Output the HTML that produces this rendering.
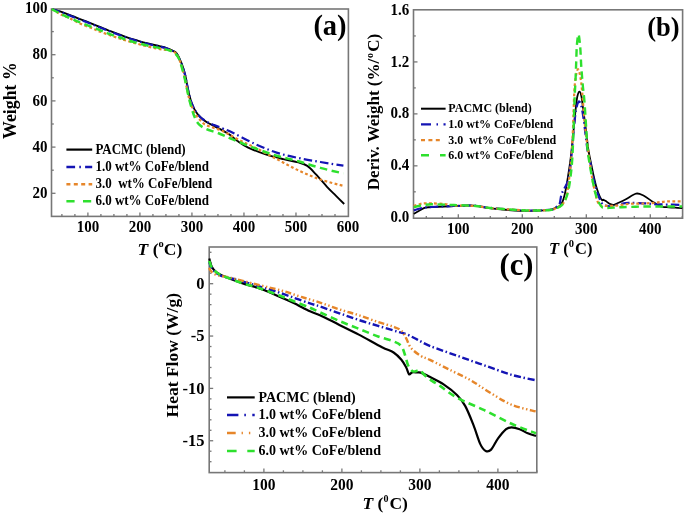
<!DOCTYPE html>
<html><head><meta charset="utf-8"><title>TGA/DTG/DSC</title>
<style>html,body{margin:0;padding:0;background:#fff;}body{width:685px;height:516px;overflow:hidden;}svg{display:block;filter:blur(0.35px);}</style>
</head><body>
<svg width="685" height="516" viewBox="0 0 685 516" font-family='"Liberation Serif", serif' font-weight="bold">
<rect width="685" height="516" fill="#fff"/>
<rect x="51.5" y="9" width="296.9" height="207.4" fill="none" stroke="#777" stroke-width="1.6"/>
<line x1="61.89" y1="216.4" x2="61.89" y2="214.1" stroke="#777" stroke-width="1.3"/>
<line x1="74.9" y1="216.4" x2="74.9" y2="214.1" stroke="#777" stroke-width="1.3"/>
<line x1="87.9" y1="216.4" x2="87.9" y2="212.4" stroke="#777" stroke-width="1.3"/>
<line x1="100.91" y1="216.4" x2="100.91" y2="214.1" stroke="#777" stroke-width="1.3"/>
<line x1="113.91" y1="216.4" x2="113.91" y2="214.1" stroke="#777" stroke-width="1.3"/>
<line x1="126.92" y1="216.4" x2="126.92" y2="214.1" stroke="#777" stroke-width="1.3"/>
<line x1="139.92" y1="216.4" x2="139.92" y2="212.4" stroke="#777" stroke-width="1.3"/>
<line x1="152.93" y1="216.4" x2="152.93" y2="214.1" stroke="#777" stroke-width="1.3"/>
<line x1="165.93" y1="216.4" x2="165.93" y2="214.1" stroke="#777" stroke-width="1.3"/>
<line x1="178.94" y1="216.4" x2="178.94" y2="214.1" stroke="#777" stroke-width="1.3"/>
<line x1="191.94" y1="216.4" x2="191.94" y2="212.4" stroke="#777" stroke-width="1.3"/>
<line x1="204.94" y1="216.4" x2="204.94" y2="214.1" stroke="#777" stroke-width="1.3"/>
<line x1="217.95" y1="216.4" x2="217.95" y2="214.1" stroke="#777" stroke-width="1.3"/>
<line x1="230.96" y1="216.4" x2="230.96" y2="214.1" stroke="#777" stroke-width="1.3"/>
<line x1="243.96" y1="216.4" x2="243.96" y2="212.4" stroke="#777" stroke-width="1.3"/>
<line x1="256.97" y1="216.4" x2="256.97" y2="214.1" stroke="#777" stroke-width="1.3"/>
<line x1="269.97" y1="216.4" x2="269.97" y2="214.1" stroke="#777" stroke-width="1.3"/>
<line x1="282.98" y1="216.4" x2="282.98" y2="214.1" stroke="#777" stroke-width="1.3"/>
<line x1="295.98" y1="216.4" x2="295.98" y2="212.4" stroke="#777" stroke-width="1.3"/>
<line x1="308.99" y1="216.4" x2="308.99" y2="214.1" stroke="#777" stroke-width="1.3"/>
<line x1="321.99" y1="216.4" x2="321.99" y2="214.1" stroke="#777" stroke-width="1.3"/>
<line x1="335" y1="216.4" x2="335" y2="214.1" stroke="#777" stroke-width="1.3"/>
<line x1="51.5" y1="193.3" x2="55.5" y2="193.3" stroke="#777" stroke-width="1.3"/>
<line x1="51.5" y1="170.2" x2="53.8" y2="170.2" stroke="#777" stroke-width="1.3"/>
<line x1="51.5" y1="147.1" x2="55.5" y2="147.1" stroke="#777" stroke-width="1.3"/>
<line x1="51.5" y1="124" x2="53.8" y2="124" stroke="#777" stroke-width="1.3"/>
<line x1="51.5" y1="100.9" x2="55.5" y2="100.9" stroke="#777" stroke-width="1.3"/>
<line x1="51.5" y1="77.8" x2="53.8" y2="77.8" stroke="#777" stroke-width="1.3"/>
<line x1="51.5" y1="54.7" x2="55.5" y2="54.7" stroke="#777" stroke-width="1.3"/>
<line x1="51.5" y1="31.6" x2="53.8" y2="31.6" stroke="#777" stroke-width="1.3"/>
<rect x="413.5" y="9.8" width="269.1" height="208.4" fill="none" stroke="#777" stroke-width="1.6"/>
<line x1="426.3" y1="218.2" x2="426.3" y2="215.9" stroke="#777" stroke-width="1.3"/>
<line x1="442.3" y1="218.2" x2="442.3" y2="215.9" stroke="#777" stroke-width="1.3"/>
<line x1="458.3" y1="218.2" x2="458.3" y2="214.2" stroke="#777" stroke-width="1.3"/>
<line x1="474.3" y1="218.2" x2="474.3" y2="215.9" stroke="#777" stroke-width="1.3"/>
<line x1="490.3" y1="218.2" x2="490.3" y2="215.9" stroke="#777" stroke-width="1.3"/>
<line x1="506.3" y1="218.2" x2="506.3" y2="215.9" stroke="#777" stroke-width="1.3"/>
<line x1="522.3" y1="218.2" x2="522.3" y2="214.2" stroke="#777" stroke-width="1.3"/>
<line x1="538.3" y1="218.2" x2="538.3" y2="215.9" stroke="#777" stroke-width="1.3"/>
<line x1="554.3" y1="218.2" x2="554.3" y2="215.9" stroke="#777" stroke-width="1.3"/>
<line x1="570.3" y1="218.2" x2="570.3" y2="215.9" stroke="#777" stroke-width="1.3"/>
<line x1="586.3" y1="218.2" x2="586.3" y2="214.2" stroke="#777" stroke-width="1.3"/>
<line x1="602.3" y1="218.2" x2="602.3" y2="215.9" stroke="#777" stroke-width="1.3"/>
<line x1="618.3" y1="218.2" x2="618.3" y2="215.9" stroke="#777" stroke-width="1.3"/>
<line x1="634.3" y1="218.2" x2="634.3" y2="215.9" stroke="#777" stroke-width="1.3"/>
<line x1="650.3" y1="218.2" x2="650.3" y2="214.2" stroke="#777" stroke-width="1.3"/>
<line x1="666.3" y1="218.2" x2="666.3" y2="215.9" stroke="#777" stroke-width="1.3"/>
<line x1="682.3" y1="218.2" x2="682.3" y2="215.9" stroke="#777" stroke-width="1.3"/>
<line x1="413.5" y1="191.82" x2="415.8" y2="191.82" stroke="#777" stroke-width="1.3"/>
<line x1="413.5" y1="165.84" x2="417.5" y2="165.84" stroke="#777" stroke-width="1.3"/>
<line x1="413.5" y1="139.86" x2="415.8" y2="139.86" stroke="#777" stroke-width="1.3"/>
<line x1="413.5" y1="113.88" x2="417.5" y2="113.88" stroke="#777" stroke-width="1.3"/>
<line x1="413.5" y1="87.9" x2="415.8" y2="87.9" stroke="#777" stroke-width="1.3"/>
<line x1="413.5" y1="61.92" x2="417.5" y2="61.92" stroke="#777" stroke-width="1.3"/>
<line x1="413.5" y1="35.94" x2="415.8" y2="35.94" stroke="#777" stroke-width="1.3"/>
<rect x="209.2" y="247" width="327.6" height="225.6" fill="none" stroke="#777" stroke-width="1.6"/>
<line x1="224.9" y1="472.6" x2="224.9" y2="470.3" stroke="#777" stroke-width="1.3"/>
<line x1="244.4" y1="472.6" x2="244.4" y2="470.3" stroke="#777" stroke-width="1.3"/>
<line x1="263.9" y1="472.6" x2="263.9" y2="468.6" stroke="#777" stroke-width="1.3"/>
<line x1="283.4" y1="472.6" x2="283.4" y2="470.3" stroke="#777" stroke-width="1.3"/>
<line x1="302.9" y1="472.6" x2="302.9" y2="470.3" stroke="#777" stroke-width="1.3"/>
<line x1="322.4" y1="472.6" x2="322.4" y2="470.3" stroke="#777" stroke-width="1.3"/>
<line x1="341.9" y1="472.6" x2="341.9" y2="468.6" stroke="#777" stroke-width="1.3"/>
<line x1="361.4" y1="472.6" x2="361.4" y2="470.3" stroke="#777" stroke-width="1.3"/>
<line x1="380.9" y1="472.6" x2="380.9" y2="470.3" stroke="#777" stroke-width="1.3"/>
<line x1="400.4" y1="472.6" x2="400.4" y2="470.3" stroke="#777" stroke-width="1.3"/>
<line x1="419.9" y1="472.6" x2="419.9" y2="468.6" stroke="#777" stroke-width="1.3"/>
<line x1="439.4" y1="472.6" x2="439.4" y2="470.3" stroke="#777" stroke-width="1.3"/>
<line x1="458.9" y1="472.6" x2="458.9" y2="470.3" stroke="#777" stroke-width="1.3"/>
<line x1="478.4" y1="472.6" x2="478.4" y2="470.3" stroke="#777" stroke-width="1.3"/>
<line x1="497.9" y1="472.6" x2="497.9" y2="468.6" stroke="#777" stroke-width="1.3"/>
<line x1="517.4" y1="472.6" x2="517.4" y2="470.3" stroke="#777" stroke-width="1.3"/>
<line x1="536.9" y1="472.6" x2="536.9" y2="470.3" stroke="#777" stroke-width="1.3"/>
<line x1="209.2" y1="461.69" x2="211.5" y2="461.69" stroke="#777" stroke-width="1.3"/>
<line x1="209.2" y1="451.22" x2="211.5" y2="451.22" stroke="#777" stroke-width="1.3"/>
<line x1="209.2" y1="440.75" x2="213.2" y2="440.75" stroke="#777" stroke-width="1.3"/>
<line x1="209.2" y1="430.28" x2="211.5" y2="430.28" stroke="#777" stroke-width="1.3"/>
<line x1="209.2" y1="419.81" x2="211.5" y2="419.81" stroke="#777" stroke-width="1.3"/>
<line x1="209.2" y1="409.34" x2="211.5" y2="409.34" stroke="#777" stroke-width="1.3"/>
<line x1="209.2" y1="398.87" x2="211.5" y2="398.87" stroke="#777" stroke-width="1.3"/>
<line x1="209.2" y1="388.4" x2="213.2" y2="388.4" stroke="#777" stroke-width="1.3"/>
<line x1="209.2" y1="377.93" x2="211.5" y2="377.93" stroke="#777" stroke-width="1.3"/>
<line x1="209.2" y1="367.46" x2="211.5" y2="367.46" stroke="#777" stroke-width="1.3"/>
<line x1="209.2" y1="356.99" x2="211.5" y2="356.99" stroke="#777" stroke-width="1.3"/>
<line x1="209.2" y1="346.52" x2="211.5" y2="346.52" stroke="#777" stroke-width="1.3"/>
<line x1="209.2" y1="336.05" x2="213.2" y2="336.05" stroke="#777" stroke-width="1.3"/>
<line x1="209.2" y1="325.58" x2="211.5" y2="325.58" stroke="#777" stroke-width="1.3"/>
<line x1="209.2" y1="315.11" x2="211.5" y2="315.11" stroke="#777" stroke-width="1.3"/>
<line x1="209.2" y1="304.64" x2="211.5" y2="304.64" stroke="#777" stroke-width="1.3"/>
<line x1="209.2" y1="294.17" x2="211.5" y2="294.17" stroke="#777" stroke-width="1.3"/>
<line x1="209.2" y1="283.7" x2="213.2" y2="283.7" stroke="#777" stroke-width="1.3"/>
<line x1="209.2" y1="273.23" x2="211.5" y2="273.23" stroke="#777" stroke-width="1.3"/>
<line x1="209.2" y1="262.76" x2="211.5" y2="262.76" stroke="#777" stroke-width="1.3"/>
<line x1="209.2" y1="252.29" x2="211.5" y2="252.29" stroke="#777" stroke-width="1.3"/>
<text transform="translate(47.4,13.1) scale(1,1.06)" font-size="15" text-anchor="end">100</text>
<text transform="translate(47.4,59.3) scale(1,1.06)" font-size="15" text-anchor="end">80</text>
<text transform="translate(47.4,105.5) scale(1,1.06)" font-size="15" text-anchor="end">60</text>
<text transform="translate(47.4,151.7) scale(1,1.06)" font-size="15" text-anchor="end">40</text>
<text transform="translate(47.4,197.9) scale(1,1.06)" font-size="15" text-anchor="end">20</text>
<text transform="translate(87.9,231.9) scale(1,1.06)" font-size="15" text-anchor="middle">100</text>
<text transform="translate(139.92,231.9) scale(1,1.06)" font-size="15" text-anchor="middle">200</text>
<text transform="translate(191.94,231.9) scale(1,1.06)" font-size="15" text-anchor="middle">300</text>
<text transform="translate(243.96,231.9) scale(1,1.06)" font-size="15" text-anchor="middle">400</text>
<text transform="translate(295.98,231.9) scale(1,1.06)" font-size="15" text-anchor="middle">500</text>
<text transform="translate(348,231.9) scale(1,1.06)" font-size="15" text-anchor="middle">600</text>
<text transform="translate(409.2,14.56) scale(1,1.06)" font-size="15" text-anchor="end">1.6</text>
<text transform="translate(409.2,66.52) scale(1,1.06)" font-size="15" text-anchor="end">1.2</text>
<text transform="translate(409.2,118.48) scale(1,1.06)" font-size="15" text-anchor="end">0.8</text>
<text transform="translate(409.2,170.44) scale(1,1.06)" font-size="15" text-anchor="end">0.4</text>
<text transform="translate(409.2,222.4) scale(1,1.06)" font-size="15" text-anchor="end">0.0</text>
<text transform="translate(458.3,233.8) scale(1,1.06)" font-size="15" text-anchor="middle">100</text>
<text transform="translate(522.3,233.8) scale(1,1.06)" font-size="15" text-anchor="middle">200</text>
<text transform="translate(586.3,233.8) scale(1,1.06)" font-size="15" text-anchor="middle">300</text>
<text transform="translate(650.3,233.8) scale(1,1.06)" font-size="15" text-anchor="middle">400</text>
<text transform="translate(204.4,288.8) scale(1,1.03)" font-size="16.5" text-anchor="end">0</text>
<text transform="translate(204.4,341.15) scale(1,1.03)" font-size="16.5" text-anchor="end">-5</text>
<text transform="translate(204.4,393.5) scale(1,1.03)" font-size="16.5" text-anchor="end">-10</text>
<text transform="translate(204.4,445.85) scale(1,1.03)" font-size="16.5" text-anchor="end">-15</text>
<text transform="translate(263.9,489.5) scale(1,1.08)" font-size="15.5" text-anchor="middle">100</text>
<text transform="translate(341.9,489.5) scale(1,1.08)" font-size="15.5" text-anchor="middle">200</text>
<text transform="translate(419.9,489.5) scale(1,1.08)" font-size="15.5" text-anchor="middle">300</text>
<text transform="translate(497.9,489.5) scale(1,1.08)" font-size="15.5" text-anchor="middle">400</text>
<text x="137.6" y="255.2" font-size="17.5"><tspan font-style="italic">T</tspan> (<tspan font-size="10.5" dy="-7.9">o</tspan><tspan dx="0" dy="7.9">C)</tspan></text>
<text x="549" y="253.8" font-size="16.5"><tspan font-style="italic">T</tspan> (<tspan font-size="10.5" dy="-6.6">0</tspan><tspan dx="1" dy="6.6">C)</tspan></text>
<text x="362.5" y="508.8" font-size="17.5"><tspan font-style="italic">T</tspan> (<tspan font-size="10" dy="-6.6">0</tspan><tspan dx="1" dy="6.6">C)</tspan></text>
<text x="0" y="0" font-size="17.8" text-anchor="middle" transform="translate(16.4,100.6) rotate(-90)">Weight %</text>
<text x="0" y="0" font-size="17" text-anchor="middle" transform="translate(379,112) rotate(-90)">Deriv. Weight (%/<tspan font-size="10" dx="0.8" dy="-6.5">o</tspan><tspan dx="1.2" dy="6.5">C)</tspan></text>
<text x="0" y="0" font-size="17.5" text-anchor="middle" transform="translate(178.3,355.2) rotate(-90)">Heat Flow (W/g)</text>
<text x="330" y="35" font-size="28.5" text-anchor="middle">(a)</text>
<text x="663.5" y="35.9" font-size="26.5" text-anchor="middle">(b)</text>
<text x="516.4" y="275.3" font-size="30.5" text-anchor="middle">(c)</text>
<path d="M51.8,9.2 C53.17,9.57 56.63,10.27 60,11.4 C63.37,12.53 67.62,14.33 72,16 C76.38,17.67 81.63,19.57 86.3,21.4 C90.97,23.23 95.55,25.2 100,27 C104.45,28.8 108.62,30.52 113,32.2 C117.38,33.88 122.2,35.7 126.3,37.1 C130.4,38.5 133.98,39.53 137.6,40.6 C141.22,41.67 144.35,42.57 148,43.5 C151.65,44.43 156.5,45.48 159.5,46.2 C162.5,46.92 164.25,47.28 166,47.8 C167.75,48.32 168.67,48.72 170,49.3 C171.33,49.88 172.83,50.55 174,51.3 C175.17,52.05 176.1,52.62 177,53.8 C177.9,54.98 178.52,56.5 179.4,58.4 C180.28,60.3 181.33,62.45 182.3,65.2 C183.27,67.95 184.4,71.67 185.2,74.9 C186,78.13 186.45,81.37 187.1,84.6 C187.75,87.83 188.28,91.07 189.1,94.3 C189.92,97.53 190.87,101.1 192,104 C193.13,106.9 194.45,109.45 195.9,111.7 C197.35,113.95 198.93,115.78 200.7,117.5 C202.47,119.22 204.23,120.55 206.5,122 C208.77,123.45 211.72,124.83 214.3,126.2 C216.88,127.57 219.42,128.77 222,130.2 C224.58,131.63 227.27,133.03 229.8,134.8 C232.33,136.57 234.13,138.67 237.2,140.8 C240.27,142.93 243.45,145.33 248.2,147.6 C252.95,149.87 259.87,152.48 265.7,154.4 C271.53,156.32 277.73,157.77 283.2,159.1 C288.67,160.43 294.48,161.27 298.5,162.4 C302.52,163.53 304.38,163.9 307.3,165.9 C310.22,167.9 312.72,170.92 316,174.4 C319.28,177.88 323.7,183.27 327,186.8 C330.3,190.33 332.93,192.73 335.8,195.6 C338.67,198.47 342.8,202.6 344.2,204" fill="none" stroke="#000" stroke-width="1.9" stroke-linejoin="round"/>
<path d="M51.8,9.2 C53.17,9.63 56.63,10.58 60,11.8 C63.37,13.02 67.62,14.8 72,16.5 C76.38,18.2 81.63,20.17 86.3,22 C90.97,23.83 95.55,25.73 100,27.5 C104.45,29.27 108.62,30.93 113,32.6 C117.38,34.27 122.2,36.1 126.3,37.5 C130.4,38.9 133.98,39.92 137.6,41 C141.22,42.08 144.35,43.07 148,44 C151.65,44.93 155.83,45.67 159.5,46.6 C163.17,47.53 167.42,48.62 170,49.6 C172.58,50.58 173.67,51.35 175,52.5 C176.33,53.65 177.08,55 178,56.5 C178.92,58 179.78,59.92 180.5,61.5 C181.22,63.08 181.52,63.67 182.3,66 C183.08,68.33 184.4,72.33 185.2,75.5 C186,78.67 186.45,81.83 187.1,85 C187.75,88.17 188.28,91.33 189.1,94.5 C189.92,97.67 190.87,101.13 192,104 C193.13,106.87 194.45,109.45 195.9,111.7 C197.35,113.95 198.93,115.88 200.7,117.5 C202.47,119.12 204.62,120.27 206.5,121.4 C208.38,122.53 210.08,123.45 212,124.3 C213.92,125.15 214.53,125.08 218,126.5 C221.47,127.92 226.68,129.92 232.8,132.8 C238.92,135.68 247.4,140.5 254.7,143.8 C262,147.1 269.3,150.23 276.6,152.6 C283.9,154.97 291.2,156.43 298.5,158 C305.8,159.57 312.92,160.72 320.4,162 C327.88,163.28 339.57,165.08 343.4,165.7" fill="none" stroke="#1414b4" stroke-width="2.2" stroke-linejoin="round" stroke-dasharray="8.5 3.2 1.6 3.2"/>
<path d="M51.8,9.2 C53.17,10 57.17,12.55 60,14 C62.83,15.45 65.47,16.32 68.8,17.9 C72.13,19.48 75.92,21.68 80,23.5 C84.08,25.32 89.97,27.45 93.3,28.8 C96.63,30.15 96.07,30.13 100,31.6 C103.93,33.07 112.52,36.1 116.9,37.6 C121.28,39.1 122.45,39.45 126.3,40.6 C130.15,41.75 134.9,43.17 140,44.5 C145.1,45.83 151.9,47.6 156.9,48.6 C161.9,49.6 166.82,49.68 170,50.5 C173.18,51.32 174.5,52.08 176,53.5 C177.5,54.92 178,56.75 179,59 C180,61.25 181.08,64 182,67 C182.92,70 183.7,73.5 184.5,77 C185.3,80.5 186.05,84.5 186.8,88 C187.55,91.5 188.13,94.83 189,98 C189.87,101.17 190.83,104.17 192,107 C193.17,109.83 194.5,112.67 196,115 C197.5,117.33 199.25,119.28 201,121 C202.75,122.72 203.02,123.68 206.5,125.3 C209.98,126.92 216.78,128.42 221.9,130.7 C227.02,132.98 231.73,136.2 237.2,139 C242.67,141.8 248.13,144.17 254.7,147.5 C261.27,150.83 269.3,155.17 276.6,159 C283.9,162.83 291.2,167.08 298.5,170.5 C305.8,173.92 312.98,176.95 320.4,179.5 C327.82,182.05 339.23,184.75 343,185.8" fill="none" stroke="#e6862a" stroke-width="2.2" stroke-linejoin="round" stroke-dasharray="2.8 2.4"/>
<path d="M51.8,9.2 C53.17,9.92 56.8,11.95 60,13.5 C63.2,15.05 67.35,16.9 71,18.5 C74.65,20.1 77.17,21.2 81.9,23.1 C86.63,25 95.22,28.23 99.4,29.9 C103.58,31.57 103.57,31.83 107,33.1 C110.43,34.37 115.62,36.03 120,37.5 C124.38,38.97 128.47,40.52 133.3,41.9 C138.13,43.28 144.63,44.78 149,45.8 C153.37,46.82 156.17,47.25 159.5,48 C162.83,48.75 166.5,49.47 169,50.3 C171.5,51.13 172.95,51.8 174.5,53 C176.05,54.2 177.22,55.58 178.3,57.5 C179.38,59.42 180.07,61.58 181,64.5 C181.93,67.42 183,71.42 183.9,75 C184.8,78.58 185.6,82.33 186.4,86 C187.2,89.67 187.83,93.33 188.7,97 C189.57,100.67 190.58,104.58 191.6,108 C192.62,111.42 193.57,114.78 194.8,117.5 C196.03,120.22 197.05,122.35 199,124.3 C200.95,126.25 203.33,127.75 206.5,129.2 C209.67,130.65 213.62,131.3 218,133 C222.38,134.7 226.68,136.87 232.8,139.4 C238.92,141.93 247.4,145.47 254.7,148.2 C262,150.93 269.3,153.62 276.6,155.8 C283.9,157.98 291.2,159.28 298.5,161.3 C305.8,163.32 312.92,165.88 320.4,167.9 C327.88,169.92 339.57,172.48 343.4,173.4" fill="none" stroke="#2ee02e" stroke-width="2.5" stroke-linejoin="round" stroke-dasharray="7.5 4.5"/>
<path d="M413.8,213.8 C414.63,213.33 416.88,212.02 418.8,211 C420.72,209.98 423.12,208.35 425.3,207.7 C427.48,207.05 427.15,207.38 431.9,207.1 C436.65,206.82 446.87,206.25 453.8,206 C460.73,205.75 468.03,205.3 473.5,205.6 C478.97,205.9 480.77,207.07 486.6,207.8 C492.43,208.53 501.2,209.48 508.5,210 C515.8,210.52 523.48,210.93 530.4,210.9 C537.32,210.87 545.9,210.28 550,209.8 C554.1,209.32 553.67,208.47 555,208 C556.33,207.53 556.95,207.63 558,207 C559.05,206.37 560.33,205.72 561.3,204.2 C562.27,202.68 563,200.63 563.8,197.9 C564.6,195.17 565.37,191.58 566.1,187.8 C566.83,184.02 567.53,179.4 568.2,175.2 C568.87,171 569.53,166.8 570.1,162.6 C570.67,158.4 571.12,154.43 571.6,150 C572.08,145.57 572.52,140.83 573,136 C573.48,131.17 574,126 574.5,121 C575,116 575.52,110.13 576,106 C576.48,101.87 576.83,98.6 577.4,96.2 C577.97,93.8 578.73,91.6 579.4,91.6 C580.07,91.6 580.8,93.47 581.4,96.2 C582,98.93 582.43,103.87 583,108 C583.57,112.13 584.2,116.5 584.8,121 C585.4,125.5 586,130.17 586.6,135 C587.2,139.83 587.68,145.4 588.4,150 C589.12,154.6 590.05,158.4 590.9,162.6 C591.75,166.8 592.55,171 593.5,175.2 C594.45,179.4 595.55,184.22 596.6,187.8 C597.65,191.38 598.87,194.63 599.8,196.7 C600.73,198.77 601.58,199.68 602.2,200.2 C602.82,200.72 602.75,199.55 603.5,199.8 C604.25,200.05 605.53,200.97 606.7,201.7 C607.87,202.43 609.28,203.68 610.5,204.2 C611.72,204.72 612.65,205.03 614,204.8 C615.35,204.57 616.62,203.73 618.6,202.8 C620.58,201.87 622.98,200.73 625.9,199.2 C628.82,197.67 633.18,194.22 636.1,193.6 C639.02,192.98 640.72,194.2 643.4,195.5 C646.08,196.8 649.28,199.57 652.2,201.4 C655.12,203.23 658.47,205.53 660.9,206.5 C663.33,207.47 664.37,207 666.8,207.2 C669.23,207.4 672.92,207.53 675.5,207.7 C678.08,207.87 681.17,208.12 682.3,208.2" fill="none" stroke="#000" stroke-width="1.8" stroke-linejoin="round"/>
<path d="M413.8,210.5 C414.83,210.17 418.08,209 420,208.5 C421.92,208 423.32,207.75 425.3,207.5 C427.28,207.25 427.15,207.25 431.9,207 C436.65,206.75 446.87,206.23 453.8,206 C460.73,205.77 468.03,205.35 473.5,205.6 C478.97,205.85 480.77,206.85 486.6,207.5 C492.43,208.15 501.2,209 508.5,209.5 C515.8,210 523.15,210.5 530.4,210.5 C537.65,210.5 547.65,210.08 552,209.5 C556.35,208.92 555.23,207.92 556.5,207 C557.77,206.08 558.8,206 559.6,204 C560.4,202 560.6,197.42 561.3,195 C562,192.58 563.02,191.08 563.8,189.5 C564.58,187.92 565.33,186.92 566,185.5 C566.67,184.08 567.12,183.77 567.8,181 C568.48,178.23 569.4,174.07 570.1,168.9 C570.8,163.73 571.35,156.98 572,150 C572.65,143.02 573.33,133.67 574,127 C574.67,120.33 575.23,114.22 576,110 C576.77,105.78 577.77,102.53 578.6,101.7 C579.43,100.87 580.27,102.78 581,105 C581.73,107.22 582.33,110.83 583,115 C583.67,119.17 584.25,124.17 585,130 C585.75,135.83 586.62,144.57 587.5,150 C588.38,155.43 589.2,157.35 590.3,162.6 C591.4,167.85 592.83,176.25 594.1,181.5 C595.37,186.75 596.63,190.52 597.9,194.1 C599.17,197.68 600.45,201.1 601.7,203 C602.95,204.9 603.8,204.97 605.4,205.5 C607,206.03 608.87,206.45 611.3,206.2 C613.73,205.95 617.08,204.57 620,204 C622.92,203.43 624.9,202.92 628.8,202.8 C632.7,202.68 638.53,203.05 643.4,203.3 C648.27,203.55 653.13,204.07 658,204.3 C662.87,204.53 668.6,204.58 672.6,204.7 C676.6,204.82 680.43,204.95 682,205" fill="none" stroke="#1414b4" stroke-width="2.2" stroke-linejoin="round" stroke-dasharray="8.5 3.2 1.6 3.2"/>
<path d="M413.8,206 C414.83,205.67 418.08,204.45 420,204 C421.92,203.55 423.32,203.4 425.3,203.3 C427.28,203.2 428.62,203.28 431.9,203.4 C435.18,203.52 441.35,203.65 445,204 C448.65,204.35 448.68,205.17 453.8,205.5 C458.92,205.83 469.67,205.58 475.7,206 C481.73,206.42 484.28,207.42 490,208 C495.72,208.58 503.33,209.08 510,209.5 C516.67,209.92 523.33,210.42 530,210.5 C536.67,210.58 545.67,210.42 550,210 C554.33,209.58 553.9,208.97 556,208 C558.1,207.03 560.77,206.52 562.6,204.2 C564.43,201.88 565.85,198.93 567,194.1 C568.15,189.27 568.75,181.72 569.5,175.2 C570.25,168.68 570.92,162.87 571.5,155 C572.08,147.13 572.53,138.5 573,128 C573.47,117.5 573.82,100.63 574.3,92 C574.78,83.37 575.25,80 575.9,76.2 C576.55,72.4 577.43,68.95 578.2,69.2 C578.97,69.45 579.87,74.22 580.5,77.7 C581.13,81.18 581.42,83.88 582,90.1 C582.58,96.32 583.33,107.52 584,115 C584.67,122.48 585.17,128.12 586,135 C586.83,141.88 587.87,148.55 589,156.3 C590.13,164.05 591.43,174.15 592.8,181.5 C594.17,188.85 595.93,196.43 597.2,200.4 C598.47,204.37 599.27,204.4 600.4,205.3 C601.53,206.2 601.7,205.72 604,205.8 C606.3,205.88 610.07,206.12 614.2,205.8 C618.33,205.48 623.93,204.28 628.8,203.9 C633.67,203.52 639.03,203.68 643.4,203.5 C647.77,203.32 651.1,203.15 655,202.8 C658.9,202.45 662.3,201.63 666.8,201.4 C671.3,201.17 679.47,201.4 682,201.4" fill="none" stroke="#e6862a" stroke-width="2.2" stroke-linejoin="round" stroke-dasharray="2.8 2.4"/>
<path d="M413.8,207.2 C415,206.92 417.98,205.98 421,205.5 C424.02,205.02 426.43,204.38 431.9,204.3 C437.37,204.22 446.5,204.72 453.8,205 C461.1,205.28 469.67,205.5 475.7,206 C481.73,206.5 484.28,207.42 490,208 C495.72,208.58 503.33,209.08 510,209.5 C516.67,209.92 523.33,210.42 530,210.5 C536.67,210.58 545.67,210.42 550,210 C554.33,209.58 554.33,208.55 556,208 C557.67,207.45 558.48,207.97 560,206.7 C561.52,205.43 563.62,203.55 565.1,200.4 C566.58,197.25 567.75,194.1 568.9,187.8 C570.05,181.5 571.23,172.23 572,162.6 C572.77,152.97 573.07,140.77 573.5,130 C573.93,119.23 574.27,106.2 574.6,98 C574.93,89.8 575.23,86.77 575.5,80.8 C575.77,74.83 575.97,68.17 576.2,62.2 C576.43,56.23 576.52,49.65 576.9,45 C577.28,40.35 577.95,33.97 578.5,34.3 C579.05,34.63 579.73,41.57 580.2,47 C580.67,52.43 580.87,60.48 581.3,66.9 C581.73,73.32 582.28,79.82 582.8,85.5 C583.32,91.18 583.87,94.42 584.4,101 C584.93,107.58 585.47,116.83 586,125 C586.53,133.17 587.02,143.67 587.6,150 C588.18,156.33 588.83,158.8 589.5,163 C590.17,167.2 590.83,171.07 591.6,175.2 C592.37,179.33 593.17,183.8 594.1,187.8 C595.03,191.8 595.93,196.05 597.2,199.2 C598.47,202.35 600.33,205.23 601.7,206.7 C603.07,208.17 602.1,207.92 605.4,208 C608.7,208.08 615.17,207.45 621.5,207.2 C627.83,206.95 636.1,206.62 643.4,206.5 C650.7,206.38 658.87,206.5 665.3,206.5 C671.73,206.5 679.22,206.5 682,206.5" fill="none" stroke="#2ee02e" stroke-width="2.4" stroke-linejoin="round" stroke-dasharray="7.5 4.5"/>
<path d="M209.3,258.5 C209.62,259.67 210.5,263.68 211.2,265.5 C211.9,267.32 212.6,268.23 213.5,269.4 C214.4,270.57 215.18,271.47 216.6,272.5 C218.02,273.53 220.05,274.7 222,275.6 C223.95,276.5 225.97,277 228.3,277.9 C230.63,278.8 233.22,279.97 236,281 C238.78,282.03 241.42,282.98 245,284.1 C248.58,285.22 254.25,286.67 257.5,287.7 C260.75,288.73 261.58,289.13 264.5,290.3 C267.42,291.47 270.32,292.67 275,294.7 C279.68,296.73 286.77,299.73 292.6,302.5 C298.43,305.27 305.43,309.18 310,311.3 C314.57,313.42 315.1,312.93 320,315.2 C324.9,317.47 332.93,321.67 339.4,324.9 C345.87,328.13 351.7,330.88 358.8,334.6 C365.9,338.32 376.2,344.22 382,347.2 C387.8,350.18 390.37,350.4 393.6,352.5 C396.83,354.6 399.3,357.3 401.4,359.8 C403.5,362.3 404.92,365.08 406.2,367.5 C407.48,369.92 408.12,373.48 409.1,374.3 C410.08,375.12 410.8,372.72 412.1,372.4 C413.4,372.08 415.45,372.37 416.9,372.4 C418.35,372.43 418.87,371.97 420.8,372.6 C422.73,373.23 424.7,374.25 428.5,376.2 C432.3,378.15 438.82,381.13 443.6,384.3 C448.38,387.47 453.58,391.57 457.2,395.2 C460.82,398.83 462.58,401.12 465.3,406.1 C468.02,411.08 471,418.77 473.5,425.1 C476,431.43 478.27,439.8 480.3,444.1 C482.33,448.4 483.9,449.98 485.7,450.9 C487.5,451.82 489.07,451.63 491.1,449.6 C493.13,447.57 495.4,442.1 497.9,438.7 C500.4,435.3 503.83,431.1 506.1,429.2 C508.37,427.3 509.23,427.3 511.5,427.3 C513.77,427.3 516.98,428.2 519.7,429.2 C522.42,430.2 525.08,432.17 527.8,433.3 C530.52,434.43 534.63,435.55 536,436" fill="none" stroke="#000" stroke-width="2.2" stroke-linejoin="round"/>
<path d="M209.3,262 C209.58,262.83 210.22,265.5 211,267 C211.78,268.5 212.83,269.83 214,271 C215.17,272.17 216.58,273.12 218,274 C219.42,274.88 218.83,275.2 222.5,276.3 C226.17,277.4 234.17,279 240,280.6 C245.83,282.2 251.67,284.13 257.5,285.9 C263.33,287.67 269.15,289.3 275,291.2 C280.85,293.1 286.77,295.27 292.6,297.3 C298.43,299.33 305.43,301.87 310,303.4 C314.57,304.93 315.1,304.85 320,306.5 C324.9,308.15 332.93,311.05 339.4,313.3 C345.87,315.55 352.35,317.9 358.8,320 C365.25,322.1 371.65,323.95 378.1,325.9 C384.55,327.85 392.65,330.25 397.5,331.7 C402.35,333.15 403.97,333.32 407.2,334.6 C410.43,335.88 413.02,337.47 416.9,339.4 C420.78,341.33 423.78,343.47 430.5,346.2 C437.22,348.93 448.23,352.62 457.2,355.8 C466.17,358.98 475.25,362.13 484.3,365.3 C493.35,368.47 502.88,372.3 511.5,374.8 C520.12,377.3 531.92,379.38 536,380.3" fill="none" stroke="#1414b4" stroke-width="2.4" stroke-linejoin="round" stroke-dasharray="7 2.6 1.5 2.6"/>
<path d="M209.3,267.8 C209.48,268.2 209.37,269.08 210.4,270.2 C211.43,271.32 212.02,273.2 215.5,274.5 C218.98,275.8 225.75,276.68 231.3,278 C236.85,279.32 242.97,280.93 248.8,282.4 C254.63,283.87 260.47,285.33 266.3,286.8 C272.13,288.27 277.97,289.52 283.8,291.2 C289.63,292.88 295.27,295 301.3,296.9 C307.33,298.8 313.65,300.52 320,302.6 C326.35,304.68 332.93,307.3 339.4,309.4 C345.87,311.5 352.35,313.1 358.8,315.2 C365.25,317.3 372.3,320.07 378.1,322 C383.9,323.93 389.72,325.35 393.6,326.8 C397.48,328.25 399.3,328.77 401.4,330.7 C403.5,332.63 404.58,335.5 406.2,338.4 C407.82,341.3 408.67,345.18 411.1,348.1 C413.53,351.02 417.65,353.93 420.8,355.9 C423.95,357.87 424.85,357.42 430,359.9 C435.15,362.38 444.9,367.4 451.7,370.8 C458.5,374.2 464.45,376.68 470.8,380.3 C477.15,383.92 483.02,388.43 489.8,392.5 C496.58,396.57 503.8,401.53 511.5,404.7 C519.2,407.87 531.92,410.37 536,411.5" fill="none" stroke="#e6862a" stroke-width="2.4" stroke-linejoin="round" stroke-dasharray="6 2.5 1.4 2.5 1.4 2.5"/>
<path d="M209.3,260.9 C209.58,261.75 210.3,264.57 211,266 C211.7,267.43 212.57,268.42 213.5,269.5 C214.43,270.58 215.18,271.5 216.6,272.5 C218.02,273.5 220.05,274.58 222,275.5 C223.95,276.42 225.97,277.08 228.3,278 C230.63,278.92 233.22,280 236,281 C238.78,282 241.42,282.92 245,284 C248.58,285.08 252.5,285.87 257.5,287.5 C262.5,289.13 269.15,291.58 275,293.8 C280.85,296.02 286.77,298.47 292.6,300.8 C298.43,303.13 305.43,305.88 310,307.8 C314.57,309.72 315.1,310.1 320,312.3 C324.9,314.5 332.93,318.25 339.4,321 C345.87,323.75 352.35,326.22 358.8,328.8 C365.25,331.38 372.3,334.4 378.1,336.5 C383.9,338.6 389.72,339.78 393.6,341.4 C397.48,343.02 399.45,343.78 401.4,346.2 C403.35,348.62 404.17,352.67 405.3,355.9 C406.43,359.13 406.92,363.02 408.2,365.6 C409.48,368.18 411.07,370.6 413,371.4 C414.93,372.2 417.85,369.75 419.8,370.4 C421.75,371.05 422.6,373.52 424.7,375.3 C426.8,377.08 429.85,379.33 432.4,381.1 C434.95,382.87 435.87,383.1 440,385.9 C444.13,388.7 449.82,393.85 457.2,397.9 C464.58,401.95 475.25,405.88 484.3,410.2 C493.35,414.52 502.88,419.95 511.5,423.8 C520.12,427.65 531.92,431.72 536,433.3" fill="none" stroke="#2ee02e" stroke-width="2.6" stroke-linejoin="round" stroke-dasharray="7 4.4"/>
<line x1="66.4" y1="149.6" x2="92.2" y2="149.6" stroke="#000" stroke-width="2.2"/>
<text transform="translate(95.4,153.7) scale(1,1.08)" font-size="13" text-anchor="start">PACMC (blend)</text>
<line x1="66.4" y1="167" x2="92.2" y2="167" stroke="#1414b4" stroke-width="2.4" stroke-dasharray="8.7 4.2 1.6 4.2"/>
<text transform="translate(95.4,171.1) scale(1,1.08)" font-size="13" text-anchor="start">1.0 wt% CoFe/blend</text>
<line x1="66.4" y1="184.3" x2="92.2" y2="184.3" stroke="#e6862a" stroke-width="2.4" stroke-dasharray="4 3.4"/>
<text transform="translate(95.4,188.4) scale(1,1.08)" font-size="13" text-anchor="start">3.0&#160;&#160;wt% CoFe/blend</text>
<line x1="66.4" y1="201.2" x2="92.2" y2="201.2" stroke="#2ee02e" stroke-width="2.6" stroke-dasharray="8.2 8.4"/>
<text transform="translate(95.4,205.3) scale(1,1.08)" font-size="13" text-anchor="start">6.0 wt% CoFe/blend</text>
<line x1="421" y1="108.7" x2="445.6" y2="108.7" stroke="#000" stroke-width="2"/>
<text x="448.3" y="112.06" font-size="12" text-anchor="start">PACMC (blend)</text>
<line x1="421" y1="124.3" x2="445.6" y2="124.3" stroke="#1414b4" stroke-width="2.2" stroke-dasharray="10 5.5 1.5 5.5"/>
<text x="448.3" y="127.66" font-size="12" text-anchor="start">1.0 wt% CoFe/blend</text>
<line x1="421" y1="140.2" x2="445.6" y2="140.2" stroke="#e6862a" stroke-width="2.2" stroke-dasharray="4 3.4 4 3.4 4 30"/>
<text x="448.3" y="143.56" font-size="12" text-anchor="start">3.0&#160;&#160;wt% CoFe/blend</text>
<line x1="421" y1="155.3" x2="445.6" y2="155.3" stroke="#2ee02e" stroke-width="2.4" stroke-dasharray="8 11"/>
<text x="448.3" y="158.66" font-size="12" text-anchor="start">6.0 wt% CoFe/blend</text>
<line x1="227" y1="397.4" x2="254.7" y2="397.4" stroke="#000" stroke-width="2.2"/>
<text transform="translate(258.5,401.7) scale(1,1.05)" font-size="14" text-anchor="start">PACMC (blend)</text>
<line x1="227" y1="415" x2="254.7" y2="415" stroke="#1414b4" stroke-width="2.5" stroke-dasharray="11.4 5.9 1.6 6.4"/>
<text transform="translate(258.5,419.3) scale(1,1.05)" font-size="14" text-anchor="start">1.0 wt% CoFe/blend</text>
<line x1="227" y1="433" x2="254.7" y2="433" stroke="#e6862a" stroke-width="2.5" stroke-dasharray="8.7 5.9 1.3 6 1.4 6"/>
<text transform="translate(258.5,437.3) scale(1,1.05)" font-size="14" text-anchor="start">3.0 wt% CoFe/blend</text>
<line x1="227" y1="451" x2="254.7" y2="451" stroke="#2ee02e" stroke-width="2.6" stroke-dasharray="9.6 10.7"/>
<text transform="translate(258.5,455.3) scale(1,1.05)" font-size="14" text-anchor="start">6.0 wt% CoFe/blend</text>
</svg>
</body></html>
